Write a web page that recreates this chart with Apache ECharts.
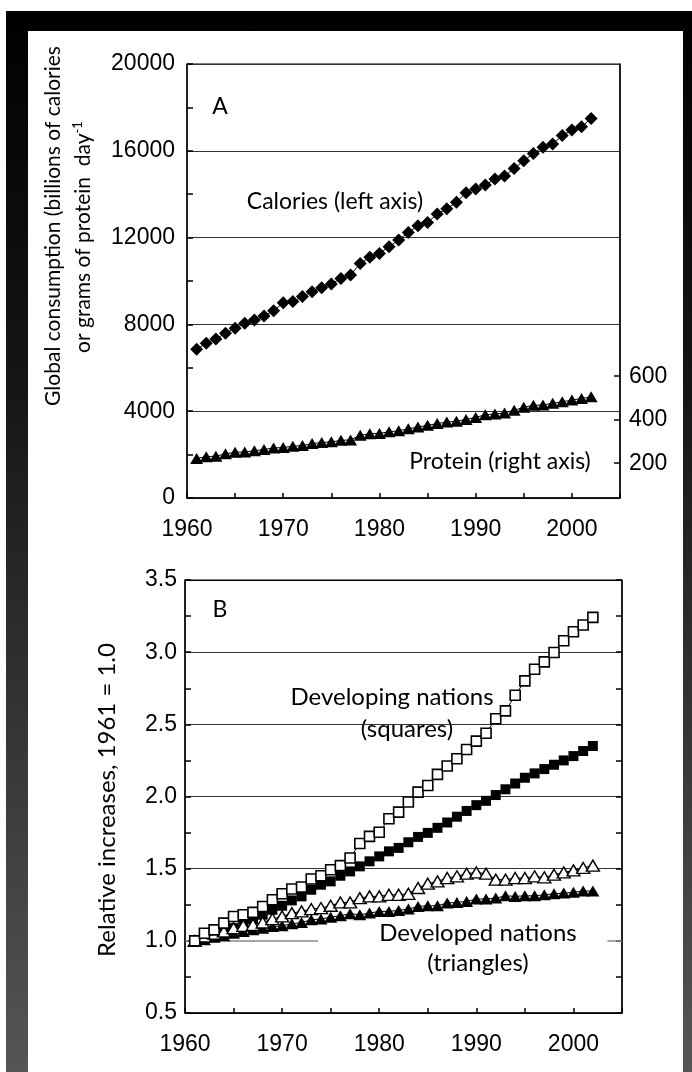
<!DOCTYPE html>
<html>
<head>
<meta charset="utf-8">
<title>Global food consumption</title>
<script src="https://cdn.jsdelivr.net/npm/echarts@6/dist/echarts.min.js"></script>
<style>
  html, body { margin: 0; padding: 0; background: #fff; }
  .frame { position: absolute; left: 6px; top: 11px; width: 686px; height: 1061px;
           background: linear-gradient(#000 0%, #151515 35%, #555 100%); }
  .panel { position: absolute; left: 28px; top: 31px; width: 655px; height: 1041px; background: #fff; }
  #chart { position: absolute; left: 0; top: 0; width: 692px; height: 1072px; }
</style>
</head>
<body>
<div class="frame"></div>
<div class="panel"></div>
<div id="chart"></div>
<script>
// years of observation
const years = [1961, 1962, 1963, 1964, 1965, 1966, 1967, 1968, 1969, 1970,
  1971, 1972, 1973, 1974, 1975, 1976, 1977, 1978, 1979, 1980,
  1981, 1982, 1983, 1984, 1985, 1986, 1987, 1988, 1989, 1990,
  1991, 1992, 1993, 1994, 1995, 1996, 1997, 1998, 1999, 2000,
  2001, 2002]

// panel A: global calories (left axis) and protein (right axis)
const calories = [6850, 7130, 7330, 7590, 7820, 8050, 8200, 8390, 8630, 9000,
  9050, 9280, 9510, 9690, 9860, 10120, 10280, 10810, 11090, 11270,
  11580, 11890, 12230, 12550, 12700, 13090, 13330, 13630, 14070, 14240,
  14420, 14700, 14840, 15190, 15540, 15880, 16160, 16310, 16700, 16960,
  17110, 17490]
const protein = [222, 230, 232, 243, 250, 252, 257, 263, 270, 272,
  278, 281, 290, 295, 298, 305, 307, 328, 335, 337,
  344, 349, 358, 366, 374, 382, 389, 393, 401, 410,
  423, 426, 431, 443, 457, 466, 468, 475, 482, 490,
  497, 505]
const proteinTicks = [200, 400, 600]

// panel B: relative increases, 1961 = 1.0
const developingOpen = [1.0, 1.053, 1.076, 1.123, 1.169, 1.181, 1.197, 1.238, 1.285, 1.326,
  1.359, 1.373, 1.428, 1.451, 1.493, 1.521, 1.574, 1.674, 1.724, 1.752,
  1.846, 1.892, 1.962, 2.030, 2.076, 2.153, 2.211, 2.262, 2.326, 2.384,
  2.438, 2.539, 2.593, 2.701, 2.801, 2.882, 2.933, 2.998, 3.079, 3.141,
  3.188, 3.241]
const developingFilled = [1.0, 1.012, 1.035, 1.065, 1.088, 1.118, 1.151, 1.181, 1.215, 1.243,
  1.280, 1.308, 1.354, 1.389, 1.412, 1.451, 1.481, 1.516, 1.551, 1.585,
  1.620, 1.644, 1.683, 1.720, 1.748, 1.783, 1.82, 1.86, 1.90, 1.94,
  1.97, 2.01, 2.05, 2.09, 2.13, 2.16, 2.19, 2.22, 2.25, 2.28,
  2.315, 2.35]
const developedOpen = [1.0, 1.03, 1.05, 1.065, 1.088, 1.104, 1.111, 1.127, 1.151, 1.169,
  1.192, 1.204, 1.22, 1.227, 1.243, 1.266, 1.266, 1.296, 1.308, 1.308,
  1.319, 1.319, 1.326, 1.366, 1.396, 1.412, 1.435, 1.447, 1.465, 1.474,
  1.465, 1.424, 1.424, 1.435, 1.435, 1.447, 1.44, 1.458, 1.474, 1.488,
  1.505, 1.521]
const developedFilled = [1.0, 1.007, 1.025, 1.035, 1.053, 1.065, 1.076, 1.088, 1.099, 1.104,
  1.118, 1.127, 1.146, 1.151, 1.164, 1.174, 1.188, 1.181, 1.192, 1.204,
  1.204, 1.211, 1.22, 1.238, 1.243, 1.243, 1.262, 1.266, 1.273, 1.29,
  1.29, 1.296, 1.312, 1.308, 1.312, 1.312, 1.319, 1.326, 1.331, 1.336,
  1.345, 1.345]
// the baseline 1.0 is only drawn outside the "Developed nations" label
const baselineGaps = [[1960, 1973.7], [2003.5, 2005]]

const pair = (vals) => years.map((y, i) => [y, vals[i]])

const TICK_FONT = 'Liberation Sans, Arial, sans-serif'
const TEXT_FONT = 'Lato, "Open Sans", sans-serif'

const xAxisBase = (gridIndex) => ({
  type: 'value',
  gridIndex,
  min: 1960,
  max: 2005,
  interval: 5,
  axisLine: { lineStyle: { color: '#000', width: 1.5 } },
  axisTick: { inside: true, length: 5, lineStyle: { color: '#000', width: 1.5 } },
  axisLabel: {
    margin: 20,
    color: '#000',
    fontFamily: TICK_FONT,
    fontSize: 23,
    formatter: (v) => (v % 10 === 0 ? String(v) : '')
  },
  splitLine: { show: false }
})

const chart = echarts.init(document.getElementById('chart'))

const option = {
  animation: false,
  grid: [
    { left: 187, right: 72, top: 64, height: 434, show: true, borderColor: '#000', borderWidth: 1 },
    { left: 185, right: 70, top: 580, height: 433, show: true, borderColor: '#000', borderWidth: 1 }
  ],
  xAxis: [xAxisBase(0), xAxisBase(1)],
  yAxis: [
    {
      type: 'value',
      gridIndex: 0,
      min: 0,
      max: 20000,
      interval: 4000,
      axisLine: { show: true, lineStyle: { color: '#000', width: 1.5 } },
      axisTick: { inside: true, length: 6, lineStyle: { color: '#000', width: 1.5 } },
      minorTick: { show: true, splitNumber: 2, length: 6, lineStyle: { color: '#000', width: 1.5 } },
      axisLabel: { margin: 12, color: '#000', fontFamily: TICK_FONT, fontSize: 23, formatter: (v) => String(v) },
      splitLine: { show: true, lineStyle: { color: '#333', width: 1 } }
    },
    {
      type: 'value',
      gridIndex: 0,
      position: 'right',
      min: 40,
      max: 2035,
      axisLine: { show: true, lineStyle: { color: '#000', width: 1.5 } },
      axisTick: { show: true, inside: true, length: 6, customValues: proteinTicks, lineStyle: { color: '#000', width: 1.5 } },
      axisLabel: { margin: 9, color: '#000', fontFamily: TICK_FONT, fontSize: 23, customValues: proteinTicks },
      splitLine: { show: false }
    },
    {
      type: 'value',
      gridIndex: 1,
      min: 0.5,
      max: 3.5,
      interval: 0.5,
      axisLine: { show: true, lineStyle: { color: '#000', width: 1.5 } },
      axisTick: { inside: true, length: 6, lineStyle: { color: '#000', width: 1.5 } },
      minorTick: { show: true, splitNumber: 2, length: 6, lineStyle: { color: '#000', width: 1.5 } },
      axisLabel: { margin: 8, color: '#000', fontFamily: TICK_FONT, fontSize: 23, formatter: (v) => v.toFixed(1) },
      splitLine: {
        show: true,
        lineStyle: { color: ['#000', 'rgba(0,0,0,0)', '#333', '#333', '#333', '#333', '#000'], width: 1 }
      }
    },
    {
      type: 'value',
      gridIndex: 1,
      position: 'right',
      min: 0.5,
      max: 3.5,
      interval: 0.5,
      axisLine: { show: true, lineStyle: { color: '#000', width: 1.5 } },
      axisTick: { inside: true, length: 6, lineStyle: { color: '#000', width: 1.5 } },
      minorTick: { show: true, splitNumber: 2, length: 6, lineStyle: { color: '#000', width: 1.5 } },
      axisLabel: { show: false },
      splitLine: { show: false }
    }
  ],
  series: [
    {
      name: 'Calories',
      type: 'line',
      xAxisIndex: 0,
      yAxisIndex: 0,
      data: pair(calories),
      symbol: 'diamond',
      symbolSize: 13,
      itemStyle: { color: '#000' },
      lineStyle: { color: '#000', width: 1 }
    },
    {
      name: 'Protein',
      type: 'line',
      xAxisIndex: 0,
      yAxisIndex: 1,
      data: pair(protein),
      symbol: 'triangle',
      symbolSize: [13, 11],
      itemStyle: { color: '#000' },
      lineStyle: { color: '#000', width: 1 }
    },
    {
      name: 'Developing (filled)',
      type: 'line',
      xAxisIndex: 1,
      yAxisIndex: 2,
      data: pair(developingFilled),
      symbol: 'rect',
      symbolSize: 10,
      itemStyle: { color: '#000' },
      lineStyle: { color: '#000', width: 1 },
      markLine: {
        silent: true,
        z: 1,
        symbol: 'none',
        label: { show: false },
        lineStyle: { color: '#888', width: 1.5, type: 'solid' },
        data: baselineGaps.map(([a, b]) => [{ coord: [a, 1.0] }, { coord: [b, 1.0] }])
      }
    },
    {
      name: 'Developed (filled)',
      type: 'line',
      xAxisIndex: 1,
      yAxisIndex: 2,
      data: pair(developedFilled),
      symbol: 'triangle',
      symbolSize: [13, 11],
      itemStyle: { color: '#000' },
      lineStyle: { color: '#000', width: 1 }
    },
    {
      name: 'Developed (open)',
      type: 'line',
      xAxisIndex: 1,
      yAxisIndex: 2,
      data: pair(developedOpen),
      symbol: 'triangle',
      symbolSize: [13, 11],
      itemStyle: { color: '#fff', borderColor: '#000', borderWidth: 1.4 },
      lineStyle: { color: '#000', width: 1 }
    },
    {
      name: 'Developing (open)',
      type: 'line',
      xAxisIndex: 1,
      yAxisIndex: 2,
      data: pair(developingOpen),
      symbol: 'rect',
      symbolSize: 10,
      itemStyle: { color: '#fff', borderColor: '#000', borderWidth: 1.6 },
      lineStyle: { color: '#000', width: 1 }
    }
  ],
  graphic: [
    // axis titles
    {
      type: 'text', x: 53, y: 226, rotation: Math.PI / 2,
      style: {
        text: 'Global consumption (billions of calories',
        font: '21px ' + TEXT_FONT, fill: '#000', align: 'center', verticalAlign: 'middle'
      }
    },
    {
      type: 'text', x: 83, y: 237, rotation: Math.PI / 2,
      style: {
        text: 'or grams of protein  day{sup|-1}',
        font: '21px ' + TEXT_FONT, fill: '#000', align: 'center', verticalAlign: 'middle',
        rich: { sup: { fontSize: 13, fontFamily: TEXT_FONT, padding: [0, 0, 10, 0] } }
      }
    },
    {
      type: 'text', x: 107, y: 800, rotation: Math.PI / 2,
      style: {
        text: 'Relative increases, 1961 = 1.0',
        font: '24px ' + TEXT_FONT, fill: '#000', align: 'center', verticalAlign: 'middle'
      }
    },
    // panel letters and annotations
    { type: 'text', x: 220, y: 107, style: { text: 'A', font: '23px ' + TEXT_FONT, fill: '#000', align: 'center', verticalAlign: 'middle' } },
    { type: 'text', x: 220, y: 610, style: { text: 'B', font: '23px ' + TEXT_FONT, fill: '#000', align: 'center', verticalAlign: 'middle' } },
    { type: 'text', x: 335, y: 202, style: { text: 'Calories (left axis)', font: '23px ' + TEXT_FONT, fill: '#000', align: 'center', verticalAlign: 'middle' } },
    { type: 'text', x: 500, y: 462, style: { text: 'Protein (right axis)', font: '23px ' + TEXT_FONT, fill: '#000', align: 'center', verticalAlign: 'middle' } },
    { type: 'text', x: 392, y: 697, style: { text: 'Developing nations', font: '24px ' + TEXT_FONT, fill: '#000', align: 'center', verticalAlign: 'middle' } },
    { type: 'text', x: 407, y: 729, style: { text: '(squares)', font: '24px ' + TEXT_FONT, fill: '#000', align: 'center', verticalAlign: 'middle' } },
    { type: 'text', x: 478, y: 933, style: { text: 'Developed nations', font: '24px ' + TEXT_FONT, fill: '#000', align: 'center', verticalAlign: 'middle' } },
    { type: 'text', x: 478, y: 963, style: { text: '(triangles)', font: '24px ' + TEXT_FONT, fill: '#000', align: 'center', verticalAlign: 'middle' } }
  ]
}

chart.setOption(option)
</script>
</body>
</html>
